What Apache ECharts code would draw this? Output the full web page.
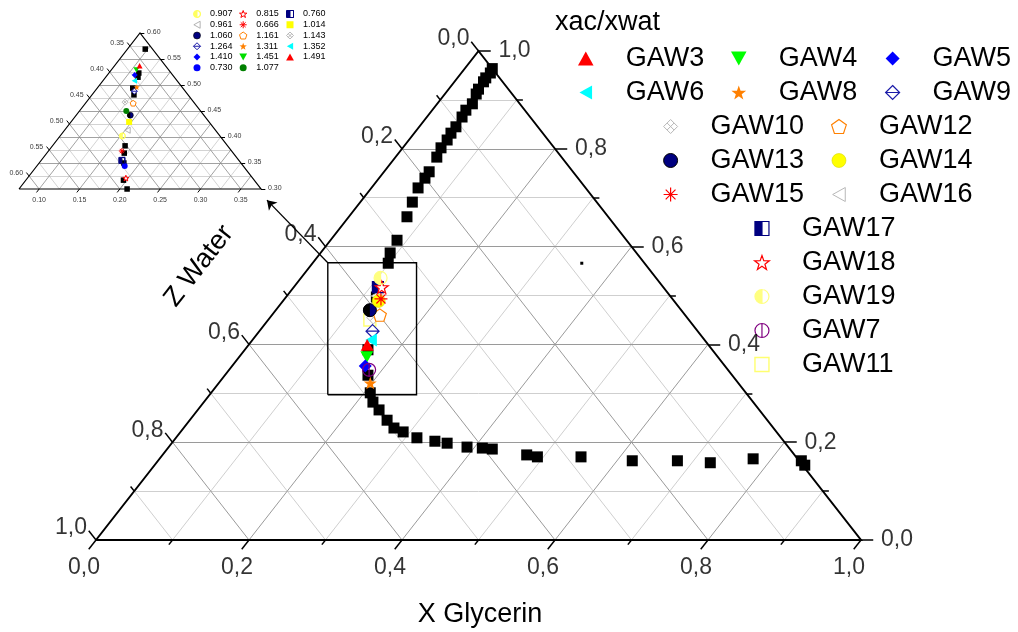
<!DOCTYPE html>
<html>
<head>
<meta charset="utf-8">
<title>Ternary diagram</title>
<script src="https://cdn.jsdelivr.net/npm/echarts@6.0.0/dist/echarts.min.js"></script>
<style>
html,body{margin:0;padding:0;background:#fff;}
#chart{width:1018px;height:632px;}
</style>
</head>
<body>
<div id="chart"></div>
<script>
// ================= DATA =================
// main ternary axes (X Glycerin bottom, Z Water left, third component right)
const mainTickValues = [0, 0.2, 0.4, 0.6, 0.8, 1.0];
const mainTickLabels = ['0,0', '0,2', '0,4', '0,6', '0,8', '1,0'];
const mainMinorTicks = [0.1, 0.3, 0.5, 0.7, 0.9];

// binodal curve (black squares): X = glycerin, Y = top-vertex component
const curveX = [0.036,0.038,0.037,0.038,0.039,0.041,0.046,0.044,0.046,0.048,0.048,0.050,0.050,0.054,0.059,0.060,0.061,0.068,0.076,0.087,0.091,0.099,0.118,0.161,0.187,0.208,0.221,0.237,0.258,0.275,0.291,0.315,0.342,0.360,0.390,0.411,0.425,0.476,0.492,0.549,0.620,0.679,0.724,0.776,0.841,0.850];
const curveY = [0.964,0.955,0.945,0.937,0.922,0.912,0.892,0.879,0.865,0.845,0.832,0.818,0.802,0.783,0.753,0.740,0.720,0.691,0.661,0.613,0.587,0.566,0.497,0.389,0.337,0.301,0.282,0.266,0.245,0.229,0.221,0.209,0.202,0.198,0.190,0.188,0.186,0.174,0.170,0.170,0.162,0.162,0.158,0.166,0.162,0.153];

// small isolated point
const dotX = [0.352];
const dotY = [0.566];

// GAW samples (main plot)
const gawNames = ['GAW11','GAW10','GAW16','GAW9','GAW6','GAW3','GAW4','GAW5','GAW7','GAW8','GAW12','GAW13','GAW14','GAW15','GAW17','GAW18','GAW19'];
const gawX = [0.133,0.135,0.118,0.148,0.155,0.155,0.167,0.174,0.183,0.198,0.141,0.123,0.125,0.126,0.110,0.115,0.104];
const gawY = [0.450,0.455,0.499,0.427,0.409,0.399,0.374,0.356,0.348,0.321,0.460,0.470,0.489,0.493,0.517,0.517,0.536];

// inset (zoomed ternary) axes
const insetXTicks = [0.10, 0.15, 0.20, 0.25, 0.30, 0.35];
const insetXLabels = ['0.10', '0.15', '0.20', '0.25', '0.30', '0.35'];
const insetZTicks = [0.35, 0.40, 0.45, 0.50, 0.55, 0.60];
const insetZLabels = ['0.35', '0.40', '0.45', '0.50', '0.55', '0.60'];
const insetYTicks = [0.30, 0.35, 0.40, 0.45, 0.50, 0.55, 0.60];
const insetYLabels = ['0.30', '0.35', '0.40', '0.45', '0.50', '0.55', '0.60'];

// inset points, named by xac/xwat ratio
const insetNames = ['0.907','0.961','1.060','1.264','1.410','0.730','0.815','0.666','1.161','1.311','1.451','1.077','0.760','1.014','1.143','1.352','1.491'];
const insetX = [0.152,0.153,0.142,0.124,0.109,0.184,0.197,0.166,0.134,0.123,0.106,0.133,0.175,0.147,0.123,0.114,0.106];
const insetY = [0.402,0.413,0.442,0.488,0.519,0.344,0.321,0.373,0.465,0.496,0.529,0.450,0.355,0.429,0.467,0.508,0.537];
const insetCurveX = [0.097,0.112,0.115,0.119,0.127,0.165,0.171,0.180,0.196,0.209];
const insetCurveY = [0.569,0.523,0.515,0.494,0.481,0.383,0.369,0.350,0.317,0.300];

// ================= LAYOUT / STYLE =================
const FONT = '"Liberation Sans", Arial, Helvetica, sans-serif';
const MAIN = {x0: 0, y0: 0, span: 1};
const INSET = {x0: 0.075, y0: 0.30, span: 0.3};
const zoomBox = [0.303, 0.297, 0.419, 0.567]; // cartesian frame of main grid
const arrowTip = [0.2235, 0.695];

const SYM = {
  triUp: 'path://M0,-0.9 L1,0.9 L-1,0.9 Z',
  triDown: 'path://M-1,-0.9 L1,-0.9 L0,0.9 Z',
  triLeft: 'path://M0.9,-1 L0.9,1 L-0.9,0 Z',
  diamond: 'path://M0,-1 L1,0 L0,1 L-1,0 Z',
  square: 'path://M-1,-1 L1,-1 L1,1 L-1,1 Z',
  star: 'path://M0,-1 L0.235,-0.324 L0.951,-0.309 L0.380,0.124 L0.588,0.809 L0,0.4 L-0.588,0.809 L-0.380,0.124 L-0.951,-0.309 L-0.235,-0.324 Z',
  pentagon: 'path://M0,-1 L0.951,-0.309 L0.588,0.809 L-0.588,0.809 L-0.951,-0.309 Z',
  diamondLine: 'path://M0,-1 L1,0 L0,1 L-1,0 Z M-1,0 L1,0',
  circleVLine: 'path://M0,-1 A1,1 0 1,1 0,1 A1,1 0 1,1 0,-1 Z M0,-1 L0,1',
  asterisk: 'path://M-1,0 L1,0 M0,-1 L0,1 M-0.7,-0.7 L0.7,0.7 M0.7,-0.7 L-0.7,0.7',
  cross: 'path://M0,-1 L1,0 L0,1 L-1,0 Z M-0.5,-0.5 L0.5,0.5 M0.5,-0.5 L-0.5,0.5',
  halfSquare: 'path://M-1,-1 L0,-1 L0,1 L-1,1 Z M0,-1 L1,-1 L1,1 L0,1 L1,1 L1,-1 Z',
  halfCircle: 'path://M0,-1 A1,1 0 0,0 0,1 Z M0,-1 A1,1 0 0,1 0,1 A1,1 0 0,0 0,-1 Z',
  leftHalf: 'path://M0,-1 A1,1 0 0,0 0,1 Z M1,0 L1,0'
};

const styleByName = {
  GAW3:  {symbol: SYM.triUp, color: '#ff0000'},
  GAW4:  {symbol: SYM.triDown, color: '#00ff00'},
  GAW5:  {symbol: SYM.diamond, color: '#0000ff'},
  GAW6:  {symbol: SYM.triLeft, color: '#00ffff'},
  GAW8:  {symbol: SYM.star, color: '#ff8000'},
  GAW9:  {symbol: SYM.diamondLine, color: '#ffffff', border: '#1a1aa8', bw: 1.2},
  GAW10: {symbol: SYM.cross, color: '#ffffff', border: '#b8b8b8', bw: 1},
  GAW12: {symbol: SYM.pentagon, color: '#ffffff', border: '#ff8000', bw: 1.2},
  GAW13: {symbol: 'circle', color: '#000080', border: '#000000', bw: 1, overlay: {symbol: SYM.leftHalf, color: '#000000'}},
  GAW14: {symbol: 'circle', color: '#ffff00', border: '#d8d800', bw: 0.6},
  GAW15: {symbol: SYM.asterisk, color: 'rgba(0,0,0,0)', border: '#ff0000', bw: 1.2},
  GAW16: {symbol: SYM.triLeft, color: '#ffffff', border: '#b8b8b8', bw: 1},
  GAW17: {symbol: SYM.halfSquare, color: '#000080', border: '#000080', bw: 1.2, size: 11},
  GAW18: {symbol: SYM.star, color: '#ffffff', border: '#ff0000', bw: 1.2},
  GAW19: {symbol: SYM.halfCircle, color: '#ffff80', border: '#ffff80', bw: 1.2},
  GAW7:  {symbol: SYM.circleVLine, color: 'rgba(0,0,0,0)', border: '#800080', bw: 1.2},
  GAW11: {symbol: SYM.square, color: '#ffffff', border: '#ffff70', bw: 1.4, size: 12},
  '0.907': {symbol: SYM.halfCircle, color: '#ffff60', border: '#ffff60', bw: 1},
  '0.961': {symbol: SYM.triLeft, color: '#ffffff', border: '#a0a0a0', bw: 0.8},
  '1.060': {symbol: 'circle', color: '#000080', border: '#000', bw: 0.6, overlay: {symbol: SYM.leftHalf, color: '#000'}},
  '1.264': {symbol: SYM.diamondLine, color: '#ffffff', border: '#1a1aa8', bw: 1},
  '1.410': {symbol: SYM.diamond, color: '#0000ff'},
  '0.730': {symbol: 'circle', color: '#0000ff'},
  '0.815': {symbol: SYM.star, color: '#ffffff', border: '#ff0000', bw: 1},
  '0.666': {symbol: SYM.asterisk, color: 'rgba(0,0,0,0)', border: '#ff0000', bw: 1},
  '1.161': {symbol: SYM.pentagon, color: '#ffffff', border: '#ff8000', bw: 1},
  '1.311': {symbol: SYM.star, color: '#ff8000'},
  '1.451': {symbol: SYM.triDown, color: '#00dd00'},
  '1.077': {symbol: 'circle', color: '#008000'},
  '0.760': {symbol: SYM.halfSquare, color: '#000080', border: '#000080', bw: 1},
  '1.014': {symbol: SYM.square, color: '#ffff00'},
  '1.143': {symbol: SYM.cross, color: '#ffffff', border: '#a8a8a8', bw: 0.8},
  '1.352': {symbol: SYM.triLeft, color: '#00ffff'},
  '1.491': {symbol: SYM.triUp, color: '#ff0000'}
};

// ================= HELPERS =================
const cart = (xf, yf) => [xf + yf / 2, yf];
const pt = (fr, X, Y) => cart((X - fr.x0) / fr.span, (Y - fr.y0) / fr.span);
const zOrigin = fr => 1 - fr.x0 - fr.y0 - fr.span;

function tickSeg(fr, comp, v, t) {
  if (comp === 'X') { const f = (v - fr.x0) / fr.span; return [cart(f, 0), cart(f, -t)]; }
  if (comp === 'Y') { const f = (v - fr.y0) / fr.span; return [cart(1 - f, f), cart(1 - f + t, f)]; }
  const f = (v - zOrigin(fr)) / fr.span; return [cart(0, 1 - f), cart(-t, 1 - f + t)];
}
function gridSeg(comp, f) {
  if (comp === 'X') return [cart(f, 0), cart(f, 1 - f)];
  if (comp === 'Y') return [cart(0, f), cart(1 - f, f)];
  return [cart(0, 1 - f), cart(1 - f, 0)];
}
function linesSeries(g, segs, color, width, z, extra) {
  return Object.assign({
    type: 'lines', coordinateSystem: 'cartesian2d', xAxisIndex: g, yAxisIndex: g,
    silent: true, clip: false, z: z, animation: false,
    lineStyle: {color: color, width: width, opacity: 1, curveness: 0},
    data: segs.map(s => ({coords: s}))
  }, extra || {});
}
function textSeries(g, anchors, texts, fontSize, label) {
  return {
    type: 'scatter', xAxisIndex: g, yAxisIndex: g, silent: true, clip: false, z: 20,
    symbol: 'circle', symbolSize: 1, itemStyle: {color: 'rgba(0,0,0,0)'},
    emphasis: {disabled: true},
    data: anchors.map((a, i) => ({value: a, name: texts[i]})),
    label: Object.assign({show: true, position: 'inside', formatter: '{b}', color: '#000',
      fontSize: fontSize, fontFamily: FONT}, label)
  };
}
function markerSeries(g, name, pts, size, z) {
  const st = styleByName[name];
  const out = [{
    type: 'scatter', name: name, xAxisIndex: g, yAxisIndex: g, clip: false, z: z,
    symbol: st.symbol, symbolSize: st.size ? st.size * size / 13 : size, symbolKeepAspect: true,
    itemStyle: {color: st.color, borderColor: st.border || st.color, borderWidth: st.bw || 0, opacity: 1},
    emphasis: {disabled: true}, data: pts
  }];
  if (st.overlay) {
    out.push({
      type: 'scatter', name: 'ov-' + name, xAxisIndex: g, yAxisIndex: g, clip: false, z: z,
      symbol: st.overlay.symbol, symbolSize: size, symbolKeepAspect: true,
      itemStyle: {color: st.overlay.color, borderWidth: 0, opacity: 1}, emphasis: {disabled: true}, data: pts
    });
  }
  return out;
}

// ================= BUILD =================
const series = [];

// main grid
const mainMinor = [], mainMajor = [];
['X', 'Y', 'Z'].forEach(c => {
  mainMinorTicks.forEach(v => mainMinor.push(gridSeg(c, v)));
  mainTickValues.filter(v => v > 0 && v < 1).forEach(v => mainMajor.push(gridSeg(c, v)));
});
series.push(linesSeries(0, mainMinor, '#cfcfcf', 1, 1));
series.push(linesSeries(0, mainMajor, '#9a9a9a', 1, 1));

// main ticks
const mTM = [], mTm = [];
['X', 'Y', 'Z'].forEach(c => {
  const tM = c === 'Y' ? 0.016 : 0.019, tm = c === 'Y' ? 0.008 : 0.0095;
  mainTickValues.forEach(v => mTM.push(tickSeg(MAIN, c, v, tM)));
  mainMinorTicks.forEach(v => mTm.push(tickSeg(MAIN, c, v, tm)));
});
series.push(linesSeries(0, mTM, '#000', 1.5, 3));
series.push(linesSeries(0, mTm, '#000', 1.5, 3));
// main border
series.push(linesSeries(0, [[cart(0, 0), cart(1, 0), cart(0, 1), cart(0, 0)]], '#000', 2, 3, {polyline: true}));

// main tick labels
series.push(textSeries(0, mainTickValues.map(v => tickSeg(MAIN, 'X', v, 0)[0]), mainTickLabels, 23, {offset: [-12, 28]}));
series.push(textSeries(0, mainTickValues.map(v => tickSeg(MAIN, 'Y', v, 0)[0]), mainTickLabels, 23, {align: 'left', offset: [20, 0]}));
series.push(textSeries(0, mainTickValues.map(v => tickSeg(MAIN, 'Z', v, 0)[0]), mainTickLabels, 23, {align: 'right', offset: [-9, -12]}));

// binodal curve + dot
series.push({
  type: 'scatter', name: 'binodal', xAxisIndex: 0, yAxisIndex: 0, clip: false, z: 4,
  symbol: 'rect', symbolSize: 11, itemStyle: {color: '#000', opacity: 1}, emphasis: {disabled: true},
  data: curveX.map((x, i) => pt(MAIN, x, curveY[i]))
});
series.push({
  type: 'scatter', name: 'dot', xAxisIndex: 0, yAxisIndex: 0, clip: false, z: 4,
  symbol: 'rect', symbolSize: 3, itemStyle: {color: '#000', opacity: 1}, emphasis: {disabled: true},
  data: dotX.map((x, i) => pt(MAIN, x, dotY[i]))
});
// GAW markers
gawNames.forEach((n, i) => markerSeries(0, n, [pt(MAIN, gawX[i], gawY[i])], 13, 6).forEach(s => series.push(s)));

// zoom box and arrow
series.push(linesSeries(0, [[[zoomBox[0], zoomBox[1]], [zoomBox[2], zoomBox[1]], [zoomBox[2], zoomBox[3]], [zoomBox[0], zoomBox[3]], [zoomBox[0], zoomBox[1]]]], '#000', 1.4, 8, {polyline: true}));
series.push(linesSeries(0, [[[zoomBox[0], zoomBox[3]], arrowTip]], '#000', 1.3, 8, {symbol: ['none', 'arrow'], symbolSize: 9}));

// ---- inset ----
const inMinor = [], inMajor = [];
for (let k = 1; k <= 11; k++) {
  const f = k / 12;
  ['X', 'Y', 'Z'].forEach(c => {
    const major = c === 'Y' ? (k % 2 === 0) : (k % 2 === 1);
    (major ? inMajor : inMinor).push(gridSeg(c, f));
  });
}
series.push(linesSeries(1, inMinor, '#c8c8c8', 0.8, 1));
series.push(linesSeries(1, inMajor, '#8a8a8a', 0.8, 1));
const inTicks = [];
insetXTicks.forEach(v => inTicks.push(tickSeg(INSET, 'X', v, 0.022)));
insetZTicks.forEach(v => inTicks.push(tickSeg(INSET, 'Z', v, 0.022)));
insetYTicks.forEach(v => inTicks.push(tickSeg(INSET, 'Y', v, 0.018)));
series.push(linesSeries(1, inTicks, '#000', 1, 3));
series.push(linesSeries(1, [[cart(0, 0), cart(1, 0), cart(0, 1), cart(0, 0)]], '#000', 1.2, 3, {polyline: true}));
series.push(textSeries(1, insetXTicks.map(v => tickSeg(INSET, 'X', v, 0)[0]), insetXLabels, 7, {offset: [0, 11]}));
series.push(textSeries(1, insetZTicks.map(v => tickSeg(INSET, 'Z', v, 0)[0]), insetZLabels, 7, {align: 'right', offset: [-6, -3]}));
series.push(textSeries(1, insetYTicks.map(v => tickSeg(INSET, 'Y', v, 0)[0]), insetYLabels, 7, {align: 'left', offset: [7, -1]}));
series.push({
  type: 'scatter', name: 'insetCurve', xAxisIndex: 1, yAxisIndex: 1, clip: false, z: 4,
  symbol: 'rect', symbolSize: 5.5, itemStyle: {color: '#000', opacity: 1}, emphasis: {disabled: true},
  data: insetCurveX.map((x, i) => pt(INSET, x, insetCurveY[i]))
});
insetNames.forEach((n, i) => markerSeries(1, n, [pt(INSET, insetX[i], insetY[i])], 6, 6).forEach(s => series.push(s)));

// ---- legends ----
function mainLegend(names, left, top) {
  return {
    data: names, orient: 'vertical', left: left, top: top, padding: 0,
    itemWidth: 70, itemHeight: 14, itemGap: 7, selectedMode: false, symbolKeepAspect: true,
    itemStyle: {borderWidth: 'inherit'},
    textStyle: {fontSize: 27, lineHeight: 27, fontFamily: FONT, color: '#000'}
  };
}
function insetLegend(names, left, top) {
  return {
    data: names, orient: 'vertical', left: left, top: top, padding: 0,
    itemWidth: 16, itemHeight: 7, itemGap: 1.75, selectedMode: false, symbolKeepAspect: true,
    itemStyle: {borderWidth: 'inherit'},
    textStyle: {fontSize: 9, lineHeight: 9, fontFamily: FONT, color: '#000'}
  };
}
const legends = [
  mainLegend(['GAW3', 'GAW6'], 578, 45),
  mainLegend(['GAW4', 'GAW8'], 731, 45),
  mainLegend(['GAW5', 'GAW9'], 885, 45),
  mainLegend(['GAW10', 'GAW13', 'GAW15'], 663, 113),
  mainLegend(['GAW12', 'GAW14', 'GAW16'], 831, 113),
  mainLegend(['GAW17', 'GAW18', 'GAW19', 'GAW7', 'GAW11'], 754, 215),
  insetLegend(['0.907', '0.961', '1.060', '1.264', '1.410', '0.730'], 193, 9.5),
  insetLegend(['0.815', '0.666', '1.161', '1.311', '1.451', '1.077'], 239, 9.5),
  insetLegend(['0.760', '1.014', '1.143', '1.352', '1.491'], 286, 9.5)
];

const option = {
  animation: false,
  backgroundColor: '#ffffff',
  title: {text: 'xac/xwat', left: 555, top: 9, padding: 0,
    textStyle: {fontSize: 27, fontWeight: 'normal', fontFamily: FONT, color: '#000'}},
  legend: legends,
  grid: [
    {left: 96, top: 51, width: 765, height: 489, outerBoundsMode: 'none', containLabel: false},
    {left: 19, top: 33, width: 242, height: 156, outerBoundsMode: 'none', containLabel: false}
  ],
  xAxis: [
    {gridIndex: 0, type: 'value', min: 0, max: 1, show: false},
    {gridIndex: 1, type: 'value', min: 0, max: 1, show: false}
  ],
  yAxis: [
    {gridIndex: 0, type: 'value', min: 0, max: 1, show: false},
    {gridIndex: 1, type: 'value', min: 0, max: 1, show: false}
  ],
  graphic: [
    {type: 'text', x: 480, y: 615, silent: true,
      style: {text: 'X Glycerin', fontSize: 27, fontFamily: FONT, fill: '#000', align: 'center', verticalAlign: 'middle'}},
    {type: 'text', x: 199, y: 266, rotation: 52 * Math.PI / 180, silent: true,
      style: {text: 'Z Water', fontSize: 27, fontFamily: FONT, fill: '#000', align: 'center', verticalAlign: 'middle'}}
  ],
  series: series
};

const chart = echarts.init(document.getElementById('chart'), null, {renderer: 'canvas'});
chart.setOption(option);
</script>
</body>
</html>
